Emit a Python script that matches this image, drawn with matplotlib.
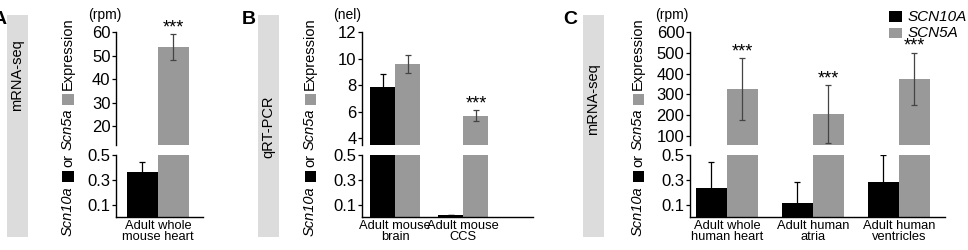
import matplotlib
matplotlib.use("Agg")
import matplotlib.pyplot as plt
from matplotlib.patches import Rectangle
import numpy as np

plt.rcParams['font.family'] = ['Liberation Sans', 'DejaVu Sans']

# ---------------- data ---------------- #
a_groups = ['Adult whole\nmouse heart']
a_black = [0.36]
a_black_err = [0.08]
a_gray = [53.5]
a_gray_err = [5.5]
a_stars = [True]

b_groups = ['Adult mouse\nbrain', 'Adult mouse\nCCS']
b_black = [7.9, 0.02]
b_black_err = [0.95, 0.0]
b_gray = [9.6, 5.7]
b_gray_err = [0.7, 0.4]
b_stars = [False, True]

c_groups = ['Adult whole\nhuman heart', 'Adult human\natria', 'Adult human\nventricles']
c_black = [0.235, 0.11, 0.28]
c_black_err = [0.21, 0.17, 0.22]
c_gray = [325, 205, 375]
c_gray_err = [150, 140, 125]
c_stars = [True, True, True]

low_ticks = [0.1, 0.3, 0.5]

# ---------------- layout helpers ---------------- #
W, H = 968, 250
fig = plt.figure(figsize=(W / 100, H / 100), dpi=100)
renderer = fig.canvas.get_renderer()

GRAY = '#999999'
PANEL = '#dcdcdc'


def fx(px):
    return px / W


def fy(py):
    return 1 - py / H


def fig_rect(x0, y0, w, h, color):
    # pixel coords, y0 is the top edge
    r = Rectangle((fx(x0), fy(y0 + h)), w / W, h / H, transform=fig.transFigure,
                  color=color, lw=0)
    fig.add_artist(r)


def side_label(x0, text, ycen):
    fig_rect(x0, 15, 21, 222, PANEL)
    fig.text(fx(x0 + 10.5), fy(ycen), text, rotation=90, ha='center', va='center',
             fontsize=10.5)


def stacked_ylabel(xc, gene1, gene2):
    pieces = [('t', gene1, 'italic'), ('s', 'black', None), ('t', 'or', 'normal'),
              ('t', gene2, 'italic'), ('s', GRAY, None), ('t', 'Expression', 'normal')]
    y = 236
    for kind, val, st in pieces:
        if kind == 't':
            t = fig.text(fx(xc), fy(y), val, rotation=90, ha='center', va='bottom',
                         fontsize=10.5, style=st)
            bb = t.get_window_extent(renderer)
            y -= bb.height + 4
        else:
            fig_rect(xc - 5.5, y - 11, 11, 11, val)
            y -= 11 + 4


def panel(x0, x1, top_lim, top_ticks, groups, black, black_err, gray, gray_err,
          stars, xlim, spacing):
    ax_top = fig.add_axes([fx(x0), fy(145), (x1 - x0) / W, (145 - 32) / H])
    ax_bot = fig.add_axes([fx(x0), fy(217), (x1 - x0) / W, (217 - 155) / H])
    xs = np.arange(len(groups)) * spacing
    for ax in (ax_top, ax_bot):
        ax.bar(xs - 0.5, black, 1, color='black', zorder=2)
        ax.bar(xs + 0.5, gray, 1, color=GRAY, zorder=2)
        ax.errorbar(xs - 0.5, black, yerr=black_err, fmt='none', ecolor='black',
                    elinewidth=0.9, capsize=2, capthick=0.9, zorder=3)
        ax.errorbar(xs + 0.5, gray, yerr=gray_err, fmt='none', ecolor='#444444',
                    elinewidth=0.9, capsize=2, capthick=0.9, zorder=3)
        ax.set_xlim(*xlim)
        for s in ('top', 'right'):
            ax.spines[s].set_visible(False)
        ax.spines['left'].set_linewidth(1.0)
        ax.spines['bottom'].set_linewidth(1.0)
        ax.tick_params(axis='y', labelsize=12, length=3, width=0.9, pad=1)
    ax_top.set_ylim(*top_lim)
    ax_top.set_yticks(top_ticks)
    ax_top.spines['bottom'].set_visible(False)
    ax_top.set_xticks([])
    ax_bot.set_ylim(0, 0.5)
    ax_bot.set_yticks(low_ticks)
    ax_bot.set_yticklabels([f'{v:.1f}' for v in low_ticks])
    ax_bot.set_xticks(xs)
    ax_bot.set_xticklabels(groups, fontsize=9.3, linespacing=0.85)
    ax_bot.tick_params(axis='x', length=0, pad=2.5)
    for x, v, e, s in zip(xs, gray, gray_err, stars):
        if s:
            ax_top.annotate('***', (x + 0.5, v + e), xytext=(0, -1.5),
                            textcoords='offset points', ha='center', va='bottom',
                            fontsize=13)
    return ax_top, ax_bot


# ---------------- panel A ---------------- #
fig.text(fx(-7), fy(20), 'A', ha='left', va='center', fontsize=14, weight='bold')
side_label(7, 'mRNA-seq', 75)
stacked_ylabel(68, 'Scn10a', 'Scn5a')
panel(116, 203, (12, 60), [20, 30, 40, 50, 60], a_groups, a_black, a_black_err,
      a_gray, a_gray_err, a_stars, (-1.35, 1.45), 1)
fig.text(fx(105), fy(15), '(rpm)', ha='center', va='center', fontsize=10)

# ---------------- panel B ---------------- #
fig.text(fx(242), fy(20), 'B', ha='left', va='center', fontsize=14, weight='bold')
side_label(258, 'qRT-PCR', 127)
stacked_ylabel(310, 'Scn10a', 'Scn5a')
panel(362, 533, (3.5, 12), [4, 6, 8, 10, 12], b_groups, b_black, b_black_err,
      b_gray, b_gray_err, b_stars, (-1.32, 5.48), 2.71)
fig.text(fx(347), fy(15), '(nel)', ha='center', va='center', fontsize=10)

# ---------------- panel C ---------------- #
fig.text(fx(563), fy(20), 'C', ha='left', va='center', fontsize=14, weight='bold')
side_label(583, 'mRNA-seq', 99)
stacked_ylabel(638, 'Scn10a', 'Scn5a')
panel(690, 945, (57, 600), [100, 200, 300, 400, 500, 600], c_groups, c_black,
      c_black_err, c_gray, c_gray_err, c_stars, (-1.19, 7.03), 2.77)
fig.text(fx(672), fy(15), '(rpm)', ha='center', va='center', fontsize=10)

# legend
fig_rect(889, 11, 13, 11, 'black')
fig_rect(889, 28, 13, 10, GRAY)
fig.text(fx(908), fy(16.5), 'SCN10A', ha='left', va='center', fontsize=11, style='italic')
fig.text(fx(908), fy(33), 'SCN5A', ha='left', va='center', fontsize=11, style='italic')

fig.savefig('out.png', dpi=100)
